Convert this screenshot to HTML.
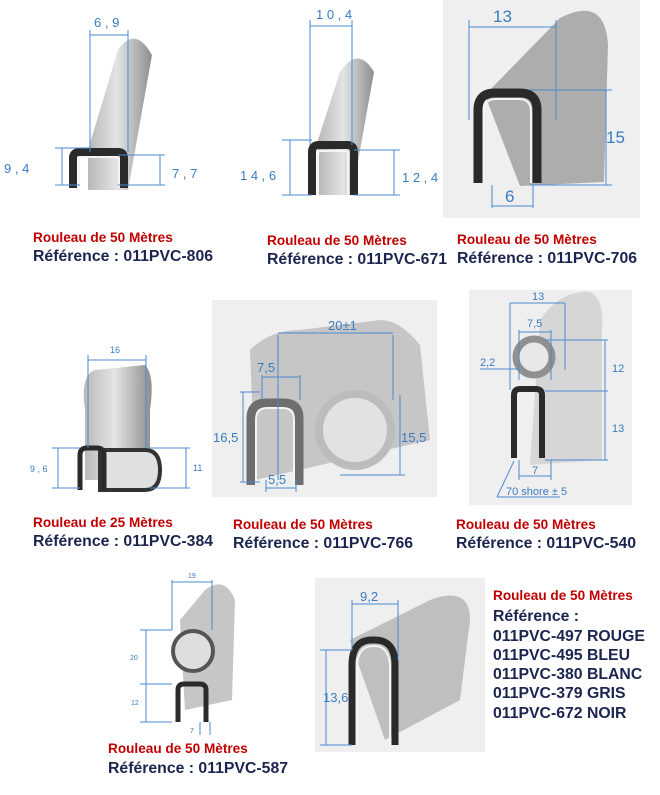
<!DOCTYPE html>
<html><head><meta charset="utf-8"><style>
html,body{margin:0;padding:0;background:#fff;width:660px;height:795px;overflow:hidden}
svg{display:block}
.r{fill:#c00000;font:bold 13.6px "Liberation Sans",sans-serif}
.n{fill:#1c2550;font:bold 15.8px "Liberation Sans",sans-serif}
.d{fill:#3a7cc0;font:13px "Liberation Sans",sans-serif}
.ds{fill:#3a7cc0;font:9px "Liberation Sans",sans-serif}
.l{stroke:#4a8ad0;stroke-width:1;fill:none}
.u{fill:none;stroke:#2a2a2a;stroke-width:8;stroke-linejoin:round}
.ui{fill:none;stroke:#f4f4f4;stroke-width:2}
</style></head><body>
<svg width="660" height="795" viewBox="0 0 660 795">
<defs>
<linearGradient id="g" x1="0" x2="1"><stop offset="0" stop-color="#b8b8b8"/><stop offset=".45" stop-color="#e4e4e4"/><stop offset="1" stop-color="#8e8e8e"/></linearGradient>
</defs>
<rect x="443" y="0" width="197" height="218" fill="#efefef"/>
<rect x="212" y="300" width="225" height="197" fill="#efefef"/>
<rect x="469" y="290" width="163" height="215" fill="#efefef"/>
<rect x="315" y="578" width="170" height="174" fill="#efefef"/>

<!-- profile 1 -->
<path d="M88 150 L118 50 Q135 25 152 55 L128 190 L88 190Z" fill="url(#g)"/>
<path class="u" d="M73 188 V158 Q73 152 80 152 H118 Q124 152 124 158 V188"/>
<path class="ui" d="M79 188 V160 Q79 157 82 157 H116 Q119 157 119 160 V188"/>
<path class="l" d="M90 30 V152 M128 30 V152 M90 35 H128 M55 148 H90 M55 185 H80 M62 148 V185 M118 155 H165 M118 185 H165 M160 155 V185"/>
<text class="d" x="94" y="27">6 , 9</text><text class="d" x="4" y="173">9 , 4</text><text class="d" x="172" y="178">7 , 7</text>

<!-- profile 2 -->
<path d="M318 140 L340 72 Q358 45 374 72 L352 195 L318 195Z" fill="url(#g)"/>
<path class="u" d="M312 195 V152 Q312 145 319 145 H347 Q354 145 354 152 V195"/>
<path class="ui" d="M318 195 V154 Q318 151 321 151 H345 Q348 151 348 154 V195"/>
<path class="l" d="M310 20 V145 M352 20 V145 M310 26 H352 M282 140 H312 M282 195 H312 M290 140 V195 M354 150 H400 M354 195 H400 M394 150 V195"/>
<text class="d" x="316" y="19">1 0 , 4</text><text class="d" x="240" y="180">1 4 , 6</text><text class="d" x="402" y="182">1 2 , 4</text>

<!-- profile 3 -->
<path d="M485 95 L560 18 Q605 -5 608 45 L604 182 L520 186Z" fill="#adadad"/>
<path class="u" d="M478 183 V110 Q478 93 495 93 H520 Q537 93 537 110 V183" style="stroke-width:9"/>
<path class="ui" d="M484 183 V112 Q484 99 496 99 H519 Q531 99 531 112 V183"/>
<path class="l" d="M469 20 V120 M556 20 V120 M469 27 H556 M530 90 H612 M530 185 H612 M606 90 V185 M492 185 V208 M533 185 V208 M492 206 H533"/>
<text x="493" y="22" style="fill:#3a7cc0;font:17px 'Liberation Sans',sans-serif">13</text>
<text x="606" y="143" style="fill:#3a7cc0;font:17px 'Liberation Sans',sans-serif">15</text>
<text x="505" y="202" style="fill:#3a7cc0;font:17px 'Liberation Sans',sans-serif">6</text>

<text class="r" x="33" y="242">Rouleau de 50 Mètres</text><text class="n" x="33" y="261">Référence : 011PVC-806</text>
<text class="r" x="267" y="245">Rouleau de 50 Mètres</text><text class="n" x="267" y="264">Référence : 011PVC-671</text>
<text class="r" x="457" y="244">Rouleau de 50 Mètres</text><text class="n" x="457" y="263">Référence : 011PVC-706</text>

<!-- profile 4 -->
<path d="M85 410 Q80 375 95 370 L145 365 Q155 375 150 410 V480 H85Z" fill="url(#g)"/>
<path d="M100 450 H145 Q160 450 160 470 Q160 490 145 490 H100Z" fill="#e0e0e0" stroke="#333" stroke-width="4"/>
<path class="u" d="M80 490 V455 Q80 448 87 448 H97 Q104 448 104 455 V490" style="stroke-width:5"/>
<path class="l" d="M88 355 V448 M146 355 V448 M88 360 H146 M52 448 H80 M52 488 H80 M58 448 V488 M150 448 H190 M150 488 H190 M186 448 V488"/>
<text class="ds" x="110" y="353">16</text><text class="ds" x="30" y="472">9 , 6</text><text class="ds" x="193" y="471">11</text>

<!-- profile 5 -->
<path d="M250 350 Q270 330 300 330 L380 320 Q400 320 420 345 L430 440 L255 480Z" fill="#c6c6c6"/>
<circle cx="355" cy="430" r="36" fill="#e2e2e2" stroke="#bcbcbc" stroke-width="8"/>
<path class="u" d="M251 485 V418 Q251 403 266 403 H284 Q299 403 299 418 V485" style="stroke:#6e6e6e;stroke-width:9"/>
<path class="ui" d="M256 485 V420 Q256 408 267 408 H283 Q294 408 294 420 V485"/>
<path class="l" d="M278 335 V480 M393 335 V400 M278 333 H393 M262 375 V400 M300 375 V400 M262 377 H300 M240 392 H260 M240 482 H260 M243 392 V482 M400 395 V475 M340 475 H405 M266 480 V492 M296 480 V492 M266 488 H296"/>
<text class="d" x="328" y="330">20±1</text><text class="d" x="257" y="372">7,5</text><text class="d" x="213" y="442">16,5</text><text class="d" x="401" y="442">15,5</text><text class="d" x="268" y="484">5,5</text>

<!-- profile 6 -->
<path d="M540 320 Q560 290 590 292 Q605 300 602 330 V460 L530 465Z" fill="#d6d6d6"/>
<circle cx="534" cy="357" r="18" fill="#e8e8e8" stroke="#909090" stroke-width="7"/>
<path class="u" d="M514 458 V395 Q514 389 520 389 H536 Q542 389 542 395 V458" style="stroke-width:6"/>
<path class="l" d="M510 303 V390 M565 303 V370 M510 303 H565 M519 330 V380 M551 330 V380 M519 332 H551 M480 369 H519 M545 340 H608 M545 391 H608 M545 460 H608 M605 340 V460 M519 460 V480 M551 460 V480 M519 476 H551 M497 497 L514 461 M497 497 H560"/>
<text class="ds" x="532" y="300" style="font-size:11px">13</text><text class="ds" x="527" y="327" style="font-size:11px">7,5</text><text class="ds" x="480" y="366" style="font-size:11px">2,2</text><text class="ds" x="612" y="372" style="font-size:11px">12</text><text class="ds" x="612" y="432" style="font-size:11px">13</text><text class="ds" x="532" y="474" style="font-size:11px">7</text><text class="ds" x="506" y="495" style="font-size:11px">70 shore ± 5</text>

<text class="r" x="33" y="527">Rouleau de 25 Mètres</text><text class="n" x="33" y="546">Référence : 011PVC-384</text>
<text class="r" x="233" y="529">Rouleau de 50 Mètres</text><text class="n" x="233" y="548">Référence : 011PVC-766</text>
<text class="r" x="456" y="529">Rouleau de 50 Mètres</text><text class="n" x="456" y="548">Référence : 011PVC-540</text>

<!-- profile 7 -->
<path d="M180 620 L205 590 Q225 575 235 600 L232 700 L185 710Z" fill="#c6c6c6"/>
<circle cx="193" cy="651" r="20" fill="#dedede" stroke="#555" stroke-width="4"/>
<path class="u" d="M178 722 V690 Q178 684 184 684 H200 Q206 684 206 690 V722" style="stroke-width:5"/>
<path class="l" d="M172 580 V630 M212 580 V630 M172 582 H212 M140 630 H172 M140 684 H172 M140 722 H172 M146 630 V722 M200 722 V735 M210 722 V735"/>
<text class="ds" x="188" y="578" style="font-size:7px">19</text><text class="ds" x="130" y="660" style="font-size:7px">20</text><text class="ds" x="131" y="705" style="font-size:7px">12</text><text class="ds" x="190" y="733" style="font-size:7px">7</text>

<!-- profile 8 -->
<path d="M350 640 L430 600 Q470 585 470 620 L460 700 L385 740Z" fill="#bfbfbf"/>
<path class="u" d="M352 745 V665 Q352 640 372 640 H375 Q395 640 395 665 V745" style="stroke-width:7"/>
<path class="ui" d="M357 745 V668 Q357 646 373 646 H374 Q390 646 390 668 V745"/>
<path class="l" d="M352 600 V650 M398 600 V660 M352 604 H398 M320 650 H352 M320 745 H352 M326 650 V745"/>
<text class="d" x="360" y="601">9,2</text><text class="d" x="323" y="702">13,6</text>

<text class="r" x="108" y="753">Rouleau de 50 Mètres</text><text class="n" x="108" y="773">Référence : 011PVC-587</text>

<text class="r" x="493" y="600">Rouleau de 50 Mètres</text>
<text class="n" x="493" y="621">Référence :</text>
<text class="n" x="493" y="641">011PVC-497 ROUGE</text>
<text class="n" x="493" y="660">011PVC-495 BLEU</text>
<text class="n" x="493" y="679">011PVC-380 BLANC</text>
<text class="n" x="493" y="698">011PVC-379 GRIS</text>
<text class="n" x="493" y="718">011PVC-672 NOIR</text>
</svg>
</body></html>
